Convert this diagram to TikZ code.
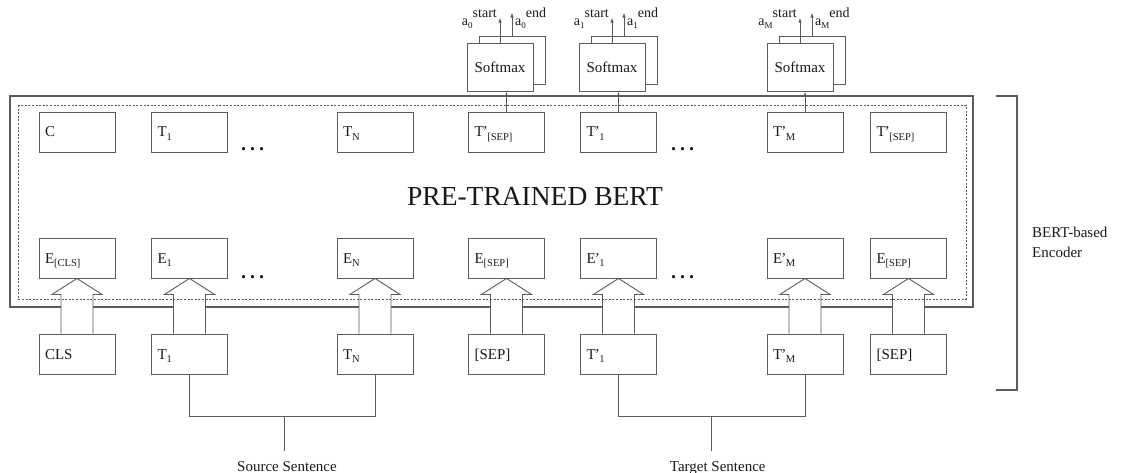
\documentclass[tikz,border=0pt]{standalone}
\usepackage{fontspec}
\setmainfont{Liberation Serif}
\usetikzlibrary{arrows.meta,calc}
\pgfdeclarelayer{back}
\pgfsetlayers{back,main}
% lowered small index, raised tag and tight prime
\newcommand\lsub[1]{\raisebox{-3.5pt}{\fontsize{10.5}{12}\selectfont #1}}
\newcommand\asub[1]{\raisebox{-3pt}{\fontsize{9}{10}\selectfont #1}}
\newcommand\lsup[1]{\raisebox{8pt}{#1}}
\newcommand\pr{\kern-0.8pt'\kern-0.5pt}
\definecolor{ln}{gray}{0.36}
\definecolor{tx}{gray}{0.1}

\begin{document}
\begin{tikzpicture}[x=1pt,y=-1pt,
  every node/.style={font=\fontsize{15}{18}\selectfont, text=tx},
  tok/.style={draw=ln, line width=0.9pt, minimum width=76pt, minimum height=40pt,
    inner xsep=6pt, inner ysep=0pt, text width=64pt, align=left,
    text height=12pt, text depth=2pt},
  sm/.style={draw=ln, line width=0.9pt, fill=white, minimum width=66pt,
    minimum height=48pt, inner sep=0pt},
  wire/.style={draw=ln, line width=0.9pt},
  tip/.style={wire, -{Latex[length=5pt,width=3.5pt]}},
  dots/.style={font=\fontsize{20}{22}\bfseries, anchor=base},
  alab/.style={font=\fontsize{14}{16}\selectfont, inner sep=0pt}]
\useasboundingbox (0,0) rectangle (1124,473);

% token boxes: output row, embedding row, input row
\foreach \n/\x/\ta/\tb/\tc in {
  1/77/C/E\lsub{[CLS]}/CLS,
  2/189.5/T\lsub{1}/E\lsub{1}/T\lsub{1},
  3/375/T\lsub{N}/E\lsub{N}/T\lsub{N},
  4/506.5/T\pr\lsub{[SEP]}/E\lsub{[SEP]}/[SEP],
  5/618.5/T\pr\lsub{1}/E\pr\lsub{1}/T\pr\lsub{1},
  6/805/T\pr\lsub{M}/E\pr\lsub{M}/T\pr\lsub{M},
  7/908.5/T\pr\lsub{[SEP]}/E\lsub{[SEP]}/[SEP]} {
  \node[tok] (t\n) at (\x,132) {\ta};
  \node[tok] (e\n) at (\x,258) {\tb};
  \node[tok] (i\n) at (\x,354) {\tc};
}

% encoder frame and hollow input arrows (behind the boxes)
\begin{pgfonlayer}{back}
  \draw[wire, line width=1.3pt] (10,96) rectangle (973,307);
  \foreach \n in {1,...,7} {
    \draw[wire, fill=white]
      ([xshift=-16pt]i\n.north) -- ([xshift=-16pt,yshift=-16pt]e\n.south)
      -- ([xshift=-25pt,yshift=-16pt]e\n.south) -- (e\n.south)
      -- ([xshift=25pt,yshift=-16pt]e\n.south) -- ([xshift=16pt,yshift=-16pt]e\n.south)
      -- ([xshift=16pt]i\n.north);
  }
\end{pgfonlayer}

% dotted inner frame
\draw[ln, line width=0.9pt, dash pattern=on 2pt off 1.6pt] (18,105) rectangle (966,299);

\node[font=\fontsize{27.5}{30}\selectfont, anchor=base] (bert) at (535,205) {PRE-TRAINED BERT};

% ellipses
\node[dots] (d1) at (252.5,151) {.\hspace{4pt}.\hspace{4pt}.};
\node[dots] (d2) at (252.5,278) {.\hspace{4pt}.\hspace{4pt}.};
\node[dots] (d3) at (682.5,151) {.\hspace{4pt}.\hspace{4pt}.};
\node[dots] (d4) at (682.5,278) {.\hspace{4pt}.\hspace{4pt}.};

% softmax heads: a back copy and a front box
\foreach \n/\x/\tk/\s in {1/500/4/0, 2/612/5/1, 3/800/6/M} {
  \node[sm] (sb\n) at (\x+12,60) {};
  \node[sm] (s\n) at (\x,67) {Softmax};
  \draw[tip] (t\tk.north) -- (t\tk.north |- s\n.south);
  \coordinate (os\n) at ($(s\n.north)+(0,-25)$);
  \coordinate (oe\n) at ($(sb\n.north)+(0,-23)$);
  \draw[tip] (s\n.north) -- (os\n);
  \draw[tip] (sb\n.north) -- (oe\n);
  \node[alab, anchor=base east] (las\n) at ($(s\n.north)+(-3,-17)$) {a\asub{\s}\lsup{start}};
  \node[alab, anchor=base west] (lae\n) at ($(sb\n.north)+(3,-10)$) {a\asub{\s}\lsup{end}};
}

% sentence groupings
\coordinate (sj) at (284,416);
\coordinate (tj) at (711.75,416);
\draw[wire] (i2.south) -- (i2.south |- sj) -- (i3.south |- sj) -- (i3.south);
\draw[wire] (sj) -- ++(0,35) coordinate (sk);
\node[anchor=base] (src) at ($(sk)+(3,20)$) {Source Sentence};
\draw[wire] (i5.south) -- (i5.south |- tj) -- (i6.south |- tj) -- (i6.south);
\draw[wire] (tj) -- ++(0,35) coordinate (tk);
\node[anchor=base] (tgt) at ($(tk)+(6,20)$) {Target Sentence};

% encoder bracket
\coordinate (b1) at (996,96);
\coordinate (b2) at (1017,96);
\coordinate (b3) at (1017,390);
\coordinate (b4) at (996,390);
\draw[wire, line width=1.1pt] (b1) -- (b2) -- (b3) -- (b4);
\node[anchor=north west, align=left, inner sep=0pt, font=\fontsize{15}{20}\selectfont] (enc) at (1032,226.5) {BERT-based\\Encoder};
\end{tikzpicture}
\end{document}
